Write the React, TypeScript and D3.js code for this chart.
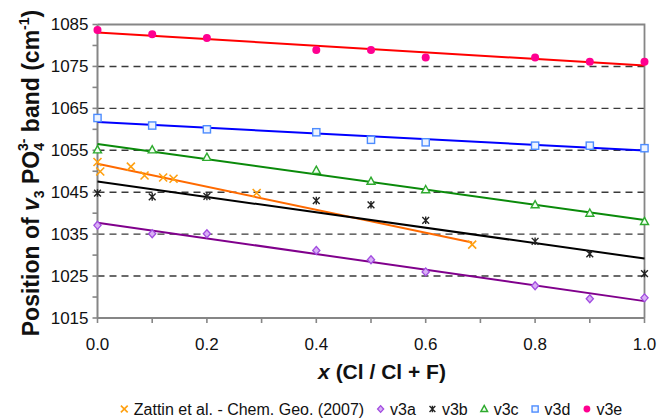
import React, { useEffect, useRef } from 'react';
import * as d3 from 'd3';

const W = 660;
const H = 418;

// Axis ticks
const xTickValues = [0, 0.1, 0.2, 0.3, 0.4, 0.5, 0.6, 0.7, 0.8, 0.9, 1.0];
const xTickLabels = [0, 0.2, 0.4, 0.6, 0.8, 1.0];
const yTickValues = [1015, 1020, 1025, 1030, 1035, 1040, 1045, 1050, 1055, 1060, 1065, 1070, 1075, 1080, 1085];
const yTickLabels = [1015, 1025, 1035, 1045, 1055, 1065, 1075, 1085];
const gridValues = [1025, 1035, 1045, 1055, 1065, 1075];

// Composition x = Cl / (Cl + F) of the synthetic series
const compX = [0, 0.1, 0.2, 0.4, 0.5, 0.6, 0.8, 0.9, 1.0];
const v3a = [1037.1, 1035.1, 1035.1, 1031.1, 1028.9, 1026.0, 1022.7, 1019.6, 1019.8];
const v3b = [1044.8, 1043.9, 1044.0, 1043.0, 1042.0, 1038.3, 1033.3, 1030.3, 1025.6];
const v3c = [1055.1, 1055.1, 1053.3, 1050.2, 1047.6, 1045.6, 1042.0, 1040.0, 1038.0];
const v3d = [1062.7, 1060.9, 1060.0, 1059.3, 1057.5, 1056.9, 1056.1, 1056.1, 1055.5];
const v3e = [1083.7, 1082.7, 1081.8, 1078.9, 1078.9, 1077.1, 1077.1, 1076.1, 1076.1];

// Zattin et al. (2007) natural samples
const zattinX = [0, 0.005, 0.061, 0.086, 0.12, 0.139, 0.291, 0.685];
const zattinY = [1052.2, 1049.95, 1051.1, 1049.0, 1048.5, 1048.2, 1044.8, 1032.5];

const legendNames = ['Zattin et al. - Chem. Geo. (2007)', 'v3a', 'v3b', 'v3c', 'v3d', 'v3e'];

type Marker = 'x' | 'diamond' | 'star' | 'triangle' | 'square' | 'circle';

interface Series {
  name: string;
  xs: number[];
  ys: number[];
  line: string;
  marker: Marker;
  stroke: string;
  fill: string;
}

const series: Series[] = [
  { name: legendNames[0], xs: zattinX, ys: zattinY, line: '#FF6A00', marker: 'x', stroke: '#FFA010', fill: 'none' },
  { name: legendNames[1], xs: compX, ys: v3a, line: '#80008C', marker: 'diamond', stroke: '#A24DE0', fill: '#D9B0F5' },
  { name: legendNames[2], xs: compX, ys: v3b, line: '#000000', marker: 'star', stroke: '#222222', fill: 'none' },
  { name: legendNames[3], xs: compX, ys: v3c, line: '#0A8A0A', marker: 'triangle', stroke: '#2EAA2E', fill: '#F4FFF4' },
  { name: legendNames[4], xs: compX, ys: v3d, line: '#0000FF', marker: 'square', stroke: '#4D8CFF', fill: '#EEF4FF' },
  { name: legendNames[5], xs: compX, ys: v3e, line: '#FF0000', marker: 'circle', stroke: '#FF0090', fill: '#FF0090' },
];

function linearFit(xs: number[], ys: number[]) {
  const mx = d3.mean(xs) as number;
  const my = d3.mean(ys) as number;
  let sxy = 0;
  let sxx = 0;
  xs.forEach((x, i) => {
    sxy += (x - mx) * (ys[i] - my);
    sxx += (x - mx) * (x - mx);
  });
  const slope = sxy / sxx;
  return { slope, intercept: my - slope * mx };
}

function drawMarker(g: d3.Selection<SVGGElement, unknown, null, undefined>, s: Series, cx: number, cy: number, k = 1) {
  const r = 4 * k;
  switch (s.marker) {
    case 'circle':
      g.append('circle').attr('cx', cx).attr('cy', cy).attr('r', r).attr('fill', s.fill);
      break;
    case 'square':
      g.append('rect')
        .attr('x', cx - 3.6 * k).attr('y', cy - 3.6 * k)
        .attr('width', 7.2 * k).attr('height', 7.2 * k)
        .attr('fill', s.fill).attr('stroke', s.stroke).attr('stroke-width', 1.4);
      break;
    case 'triangle':
      g.append('path')
        .attr('d', `M${cx},${cy - 4.2 * k}L${cx + 4 * k},${cy + 3 * k}L${cx - 4 * k},${cy + 3 * k}Z`)
        .attr('fill', s.fill).attr('stroke', s.stroke).attr('stroke-width', 1.4);
      break;
    case 'diamond':
      g.append('path')
        .attr('d', `M${cx},${cy - 4 * k}L${cx + 3.6 * k},${cy}L${cx},${cy + 4 * k}L${cx - 3.6 * k},${cy}Z`)
        .attr('fill', s.fill).attr('stroke', s.stroke).attr('stroke-width', 1.3);
      break;
    case 'x':
      g.append('path')
        .attr('d', `M${cx - r},${cy - r}L${cx + r},${cy + r}M${cx - r},${cy + r}L${cx + r},${cy - r}`)
        .attr('stroke', s.stroke).attr('stroke-width', 1.6).attr('fill', 'none');
      break;
    case 'star':
      g.append('path')
        .attr('d', `M${cx - 3.4 * k},${cy - 3.4 * k}L${cx + 3.4 * k},${cy + 3.4 * k}M${cx - 3.4 * k},${cy + 3.4 * k}L${cx + 3.4 * k},${cy - 3.4 * k}M${cx},${cy - 3.8 * k}L${cx},${cy + 3.8 * k}`)
        .attr('stroke', s.stroke).attr('stroke-width', 1.4).attr('fill', 'none');
      break;
  }
}

export default function App() {
  const ref = useRef<SVGSVGElement>(null);

  useEffect(() => {
    const svg = d3.select(ref.current as SVGSVGElement);
    svg.selectAll('*').remove();

    const x = d3.scaleLinear().domain([0, 1]).range([97.5, 644.5]);
    const y = d3.scaleLinear().domain([1015, 1085]).range([318, 24.5]);
    const font = 'Arial, "Liberation Sans", Helvetica, sans-serif';
    const axisColor = '#868686';

    // dashed horizontal grid
    svg.append('g').selectAll('line').data(gridValues).join('line')
      .attr('x1', x(0)).attr('x2', x(1))
      .attr('y1', (d) => y(d)).attr('y2', (d) => y(d))
      .attr('stroke', '#3a3a3a').attr('stroke-width', 1.4).attr('stroke-dasharray', '7,5');

    // frame
    svg.append('path')
      .attr('d', `M${x(0)},${y(1085)}H${x(1)}V${y(1015)}`)
      .attr('fill', 'none').attr('stroke', axisColor).attr('stroke-width', 1.8);

    // left axis
    const gy = svg.append('g');
    gy.append('line').attr('x1', x(0)).attr('x2', x(0)).attr('y1', y(1085)).attr('y2', y(1015))
      .attr('stroke', axisColor).attr('stroke-width', 2);
    gy.selectAll('line.t').data(yTickValues).join('line').attr('class', 't')
      .attr('x1', x(0) - 5).attr('x2', x(0))
      .attr('y1', (d) => y(d)).attr('y2', (d) => y(d))
      .attr('stroke', axisColor).attr('stroke-width', 1.6);
    gy.selectAll('text').data(yTickLabels).join('text')
      .attr('x', x(0) - 9).attr('y', (d) => y(d)).attr('dy', '0.35em')
      .attr('text-anchor', 'end').attr('font-family', font).attr('font-size', 17).attr('fill', '#111')
      .text((d) => String(d));

    // bottom axis
    const gx = svg.append('g');
    gx.append('line').attr('x1', x(0)).attr('x2', x(1)).attr('y1', y(1015)).attr('y2', y(1015))
      .attr('stroke', axisColor).attr('stroke-width', 2);
    gx.selectAll('line.t').data(xTickValues).join('line').attr('class', 't')
      .attr('x1', (d) => x(d)).attr('x2', (d) => x(d))
      .attr('y1', y(1015)).attr('y2', y(1015) + 5)
      .attr('stroke', axisColor).attr('stroke-width', 1.6);
    gx.selectAll('text').data(xTickLabels).join('text')
      .attr('x', (d) => x(d)).attr('y', y(1015) + 32)
      .attr('text-anchor', 'middle').attr('font-family', font).attr('font-size', 17).attr('fill', '#111')
      .text((d) => d3.format('.1f')(d));

    // trend lines (least-squares fits)
    const gl = svg.append('g');
    series.forEach((s) => {
      const { slope, intercept } = linearFit(s.xs, s.ys);
      const x0 = d3.min(s.xs) as number;
      const x1 = d3.max(s.xs) as number;
      gl.append('line')
        .attr('x1', x(x0)).attr('y1', y(intercept + slope * x0))
        .attr('x2', x(x1)).attr('y2', y(intercept + slope * x1))
        .attr('stroke', s.line).attr('stroke-width', 2);
    });

    // data points
    const gm = svg.append('g');
    series.forEach((s) => {
      s.xs.forEach((xv, i) => drawMarker(gm as any, s, x(xv), y(s.ys[i])));
    });

    // x-axis title
    const xt = svg.append('text')
      .attr('x', 382).attr('y', 379)
      .attr('text-anchor', 'middle').attr('font-family', font).attr('font-size', 21)
      .attr('font-weight', 'bold').attr('fill', '#111');
    xt.append('tspan').attr('font-style', 'italic').text('x');
    xt.append('tspan').text(' (Cl / Cl + F)');

    // y-axis title
    const yt = svg.append('text')
      .attr('transform', `translate(39,${173}) rotate(-90)`)
      .attr('text-anchor', 'middle').attr('font-family', font).attr('font-size', 23)
      .attr('font-weight', 'bold').attr('fill', '#111');
    yt.append('tspan').text('Position of ');
    yt.append('tspan').attr('font-style', 'italic').text('v');
    yt.append('tspan').attr('font-size', 14).attr('baseline-shift', -5).text('3');
    yt.append('tspan').text(' PO');
    yt.append('tspan').attr('font-size', 14).attr('baseline-shift', -5).text('4');
    yt.append('tspan').attr('font-size', 14).attr('dx', -8).attr('baseline-shift', 11).text('3-');
    yt.append('tspan').text(' band (cm');
    yt.append('tspan').attr('font-size', 14).attr('baseline-shift', 10).text('-1');
    yt.append('tspan').text(')');

    // legend
    const gLeg = svg.append('g');
    const items = series.map((s) => {
      const t = gLeg.append('text').attr('y', 409).attr('dy', '0.35em')
        .attr('font-family', font).attr('font-size', 16).attr('fill', '#111').text(s.name);
      const w = (t.node() as SVGTextElement).getComputedTextLength();
      return { s, t, w };
    });
    const markerW = 9;
    const gapIn = 5;
    const gapOut = 12;
    const total = d3.sum(items, (d) => markerW + gapIn + d.w) + gapOut * (items.length - 1);
    let cur = (x(0) + x(1)) / 2 - total / 2;
    items.forEach(({ s, t, w }) => {
      drawMarker(gLeg as any, s, cur + markerW / 2, 409, 0.85);
      t.attr('x', cur + markerW + gapIn);
      cur += markerW + gapIn + w + gapOut;
    });
  }, []);

  return (
    <svg
      ref={ref}
      width={W}
      height={H}
      viewBox={`0 0 ${W} ${H}`}
      style={{ position: 'absolute', left: 0, top: 0, background: '#fff' }}
    />
  );
}
